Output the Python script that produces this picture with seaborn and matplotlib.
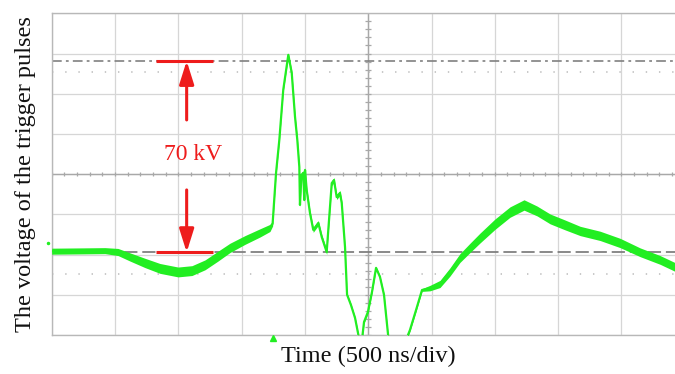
import numpy as np
import pandas as pd
import matplotlib
matplotlib.use("Agg")
import matplotlib.pyplot as plt
import seaborn as sns

# ---- data ----
time_ns = [0, 224, 421, 524, 618, 737, 855, 998, 1108, 1211,
           1314, 1408, 1527, 1646, 1724, 1745, 1772, 1798, 1829, 1869,
           1896, 1922, 1940, 1956, 1961, 1973, 1987, 1995, 2001, 2014,
           2040, 2066, 2106, 2133, 2172, 2212, 2230, 2251, 2277, 2291,
           2317, 2333, 2364, 2396, 2427, 2451, 2467, 2498, 2530, 2562,
           2593, 2625, 2657, 2688, 2783, 2830, 2878, 2925, 2988, 3067,
           3146, 3225, 3304, 3383, 3502, 3620, 3731, 3834, 3937, 4055,
           4174, 4332, 4490, 4648, 4806, 4925, 5004]
voltage_kv = [0.4, 0.5, 0.6, 0.1, -1.7, -3.9, -5.9, -7.2, -6.7, -4.6,
              -1.4, 1.6, 4.5, 7.1, 8.9, 10.5, 29.0, 41.1, 59.4, 72.2,
              65.6, 49.5, 41.1, 31.2, 17.3, 28.3, 29.0, 19.1, 30.1, 22.8,
              14.4, 8.2, 10.7, 5.6, 0.1, 25.3, 26.4, 20.2, 21.7, 18.0,
              1.9, -15.5, -19.3, -24.0, -31.3, -32.0, -25.5, -21.8, -14.5, -5.7,
              -9.0, -15.6, -30.2, -33.9, -33.9, -28.4, -21.1, -13.8, -13.1, -11.6,
              -7.2, -2.1, 1.6, 5.2, 10.3, 14.7, 17.3, 15.1, 12.2, 10.0,
              7.8, 6.0, 3.4, 0.0, -2.8, -5.4, -7.0]
noise_kv = ([1.1, 1.1, 1.1, 1.3, 1.5, 1.7, 1.8, 1.8, 1.8, 1.8,
             1.8, 1.7, 1.6, 1.5, 1.3]
            + [0.9] + [0.6] * 4 + [0.9] * 20 + [0.5] * 18
            + [1.0, 1.3, 1.5, 1.6, 1.7, 1.8, 1.9, 1.9, 1.9, 1.8,
               1.8, 1.8, 1.7, 1.7, 1.7, 1.6, 1.6, 1.6, 1.6])

peak_level_kv = 70.0
baseline_kv = 0.0
cursor_levels_kv = [66.0, -7.9]
trigger_time_ns = 1748
ground_marker = (-29, 3.4)
annot_x_ns = [824, 1272]
arrow_x_ns = 1066
arrow_tails_kv = [48.4, 22.8]
annotation_text = "70 kV"
xlabel = "Time (500 ns/div)"
ylabel = "The voltage of the trigger pulses"

ns_per_div = 500
kv_per_div = 70 / 4.76
n_xdiv, n_ydiv = 10, 8
baseline_div = 2.057

GREEN = "#22EE22"
RED = "#EE1C1C"

df = pd.DataFrame({"t": time_ns, "v": voltage_kv, "n": noise_kv})

sns.set_theme(style="white")
plt.rcParams["font.family"] = ["Liberation Serif", "DejaVu Serif"]
plt.rcParams["lines.scale_dashes"] = False

fig = plt.figure(figsize=(6.75, 3.74), dpi=100)
ax = fig.add_axes([51.7 / 675, 39 / 374, 633 / 675, 321.7 / 374])

ylo = -baseline_div * kv_per_div
yhi = (n_ydiv - baseline_div) * kv_per_div
ax.set_xlim(0, n_xdiv * ns_per_div)
ax.set_ylim(ylo, yhi)
xt = np.arange(n_xdiv + 1) * ns_per_div
yt = ylo + np.arange(n_ydiv + 1) * kv_per_div
ax.set_xticks(xt)
ax.set_yticks(yt)
ax.set_xticklabels([])
ax.set_yticklabels([])
ax.tick_params(length=0)
ax.grid(True, color="#d6d6d6", lw=0.9)
for s in ax.spines.values():
    s.set_color("#b8b8b8")
    s.set_linewidth(1.0)

# centre cross with minor ticks
yc = yt[n_ydiv // 2]
xc = xt[n_xdiv // 2]
ax.axhline(yc, color="#a8a8a8", lw=1.0, zorder=1)
ax.axvline(xc, color="#a8a8a8", lw=1.0, zorder=1)
ax.vlines(np.arange(0, n_xdiv * ns_per_div, ns_per_div / 5), yc - 0.8, yc + 0.8,
          color="#a8a8a8", lw=0.9, zorder=1)
ax.hlines(ylo + np.arange(0, n_ydiv * 5) * kv_per_div / 5, xc - 25, xc + 25,
          color="#a8a8a8", lw=0.9, zorder=1)

# reference lines
ax.axhline(peak_level_kv, color="#808080", lw=1.2, ls=(0, (7, 3, 2, 3)), zorder=2)
ax.axhline(baseline_kv, color="#808080", lw=1.3, ls=(0, (9.5, 3.5)), zorder=2)
for lv in cursor_levels_kv:
    ax.axhline(lv, color="#c0c0c0", lw=1.2, ls=(0, (1, 8.5)), zorder=2)

# trace
ax.fill_between(df["t"], df["v"] - df["n"], df["v"] + df["n"], color=GREEN, lw=0, zorder=3)
sns.lineplot(data=df, x="t", y="v", color=GREEN, lw=1.6, ax=ax, zorder=4)

# markers
ax.plot([trigger_time_ns], [ylo - 1.2], marker="^", ms=4, color=GREEN, clip_on=False, zorder=5)
ax.plot([ground_marker[0]], [ground_marker[1]], marker=".", ms=3, color=GREEN, clip_on=False, zorder=5)

# red annotation
ax.hlines([peak_level_kv, baseline_kv], annot_x_ns[0], annot_x_ns[1], color=RED, lw=2.2, zorder=6)
for tip, tail in zip([peak_level_kv, baseline_kv], arrow_tails_kv):
    ax.annotate("", xy=(arrow_x_ns, tip), xytext=(arrow_x_ns, tail),
                arrowprops=dict(arrowstyle="-|>,head_length=0.7,head_width=0.22",
                                color=RED, lw=2.2, mutation_scale=20,
                                shrinkA=0, shrinkB=0), zorder=6)
ax.text(1118, 35.6, annotation_text, color=RED, fontsize=17, ha="center", va="center", zorder=6)

ax.set_xlabel(xlabel, fontsize=17.5, labelpad=4, color="#111111")
ax.set_ylabel(ylabel, fontsize=17.5, labelpad=8, color="#111111")

fig.savefig("out.png", dpi=100)
